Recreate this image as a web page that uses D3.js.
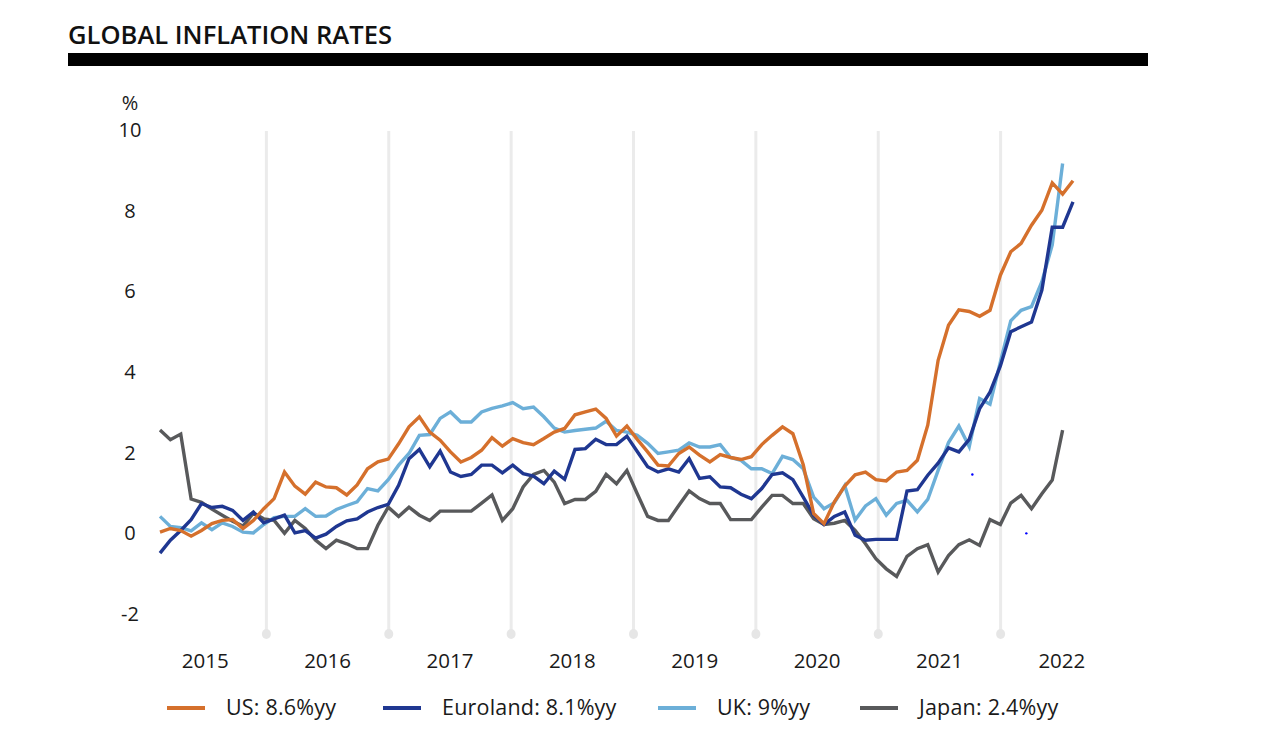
<!DOCTYPE html>
<html>
<head>
<meta charset="utf-8">
<script src="https://cdn.jsdelivr.net/npm/d3@7"></script>
<style>
  html, body { margin: 0; padding: 0; background: #ffffff; }
  svg { display: block; font-family: "Open Sans", "Noto Sans", sans-serif; }
</style>
</head>
<body>
<svg id="chart" width="1266" height="734"></svg>
<script>
// ---- data (monthly, Jan 2015 .. May 2022) ----
const years = ["2015", "2016", "2017", "2018", "2019", "2020", "2021", "2022"];
const yTicks = [-2, 0, 2, 4, 6, 8, 10];

const us = [0.03, 0.12, 0.07, -0.07, 0.07, 0.24, 0.32, 0.34, 0.12, 0.32, 0.61, 0.86,
  1.52, 1.17, 0.97, 1.27, 1.15, 1.13, 0.95, 1.2, 1.6, 1.77, 1.84, 2.22,
  2.64, 2.89, 2.51, 2.31, 2.02, 1.77, 1.88, 2.06, 2.37, 2.16, 2.35, 2.25,
  2.2, 2.35, 2.51, 2.6, 2.94, 3.01, 3.08, 2.85, 2.41, 2.66, 2.33, 2.02,
  1.69, 1.67, 1.98, 2.14, 1.94, 1.77, 1.95, 1.88, 1.83, 1.9, 2.2, 2.43,
  2.64, 2.47, 1.7, 0.49, 0.24, 0.78, 1.17, 1.45, 1.52, 1.33, 1.3, 1.52,
  1.56, 1.81, 2.68, 4.29, 5.16, 5.54, 5.5, 5.38, 5.53, 6.4, 6.98, 7.19,
  7.64, 8.01, 8.69, 8.41, 8.74];

const euroland = [-0.49, -0.17, 0.07, 0.34, 0.74, 0.64, 0.67, 0.57, 0.32, 0.53, 0.26, 0.36,
  0.45, 0.01, 0.07, -0.12, -0.02, 0.17, 0.31, 0.36, 0.53, 0.64, 0.72, 1.19,
  1.85, 2.08, 1.65, 2.04, 1.52, 1.41, 1.46, 1.69, 1.69, 1.5, 1.69, 1.48,
  1.42, 1.23, 1.54, 1.34, 2.08, 2.1, 2.33, 2.2, 2.2, 2.41, 2.03, 1.65,
  1.52, 1.6, 1.52, 1.85, 1.36, 1.4, 1.15, 1.13, 0.97, 0.86, 1.11, 1.46,
  1.5, 1.33, 0.9, 0.45, 0.22, 0.42, 0.53, -0.05, -0.17, -0.15, -0.15, -0.15,
  1.05, 1.08, 1.44, 1.74, 2.12, 2.02, 2.33, 3.09, 3.5, 4.15, 5.0, 5.12,
  5.24, 6.03, 7.59, 7.59, 8.22];

const uk = [0.42, 0.17, 0.14, 0.06, 0.26, 0.09, 0.26, 0.17, 0.03, 0.01, 0.22, 0.39,
  0.42, 0.42, 0.61, 0.42, 0.43, 0.59, 0.69, 0.78, 1.11, 1.05, 1.33, 1.69,
  1.98, 2.43, 2.45, 2.85, 3.01, 2.76, 2.76, 3.01, 3.1, 3.16, 3.24, 3.09,
  3.13, 2.89, 2.61, 2.51, 2.55, 2.58, 2.61, 2.78, 2.55, 2.51, 2.43, 2.23,
  1.98, 2.02, 2.06, 2.24, 2.14, 2.14, 2.2, 1.88, 1.81, 1.6, 1.6, 1.48,
  1.91, 1.83, 1.6, 0.9, 0.61, 0.76, 1.18, 0.33, 0.68, 0.86, 0.45, 0.74,
  0.82, 0.53, 0.84, 1.56, 2.25, 2.66, 2.15, 3.34, 3.2, 4.25, 5.27, 5.53,
  5.62, 6.24, 7.15, 9.17];

const japan = [2.56, 2.32, 2.46, 0.85, 0.77, 0.6, 0.45, 0.3, 0.18, 0.5, 0.36, 0.32,
  0.0, 0.32, 0.12, -0.17, -0.38, -0.17, -0.26, -0.38, -0.38, 0.2, 0.65, 0.42,
  0.65, 0.45, 0.32, 0.55, 0.55, 0.55, 0.55, 0.75, 0.95, 0.32, 0.61, 1.15,
  1.46, 1.56, 1.27, 0.74, 0.84, 0.84, 1.04, 1.46, 1.23, 1.56, 0.98, 0.42,
  0.32, 0.32, 0.69, 1.05, 0.86, 0.74, 0.74, 0.34, 0.34, 0.34, 0.65, 0.94,
  0.94, 0.74, 0.74, 0.36, 0.22, 0.25, 0.32, 0.07, -0.26, -0.63, -0.88, -1.07,
  -0.57, -0.38, -0.28, -0.96, -0.55, -0.28, -0.16, -0.3, 0.34, 0.22, 0.75, 0.94,
  0.61, 0.98, 1.32, 2.56];

const seriesNames = ["US: 8.6%yy", "Euroland: 8.1%yy", "UK: 9%yy", "Japan: 2.4%yy"];
const seriesColors = ["#d5702c", "#1f3791", "#6cafd8", "#58595b"];

// two tiny stray marks visible in the original (month index, value)
const strayIdx = [78.3, 83.5];
const strayVal = [1.46, 0.0];

// ---- drawing ----
const svg = d3.select("#chart");

// Title and bar
svg.append("text")
  .attr("x", 68).attr("y", 44)
  .attr("font-size", 26).attr("font-weight", 600)
  .attr("fill", "#111")
  .attr("textLength", 324).attr("lengthAdjust", "spacingAndGlyphs")
  .text("GLOBAL INFLATION RATES");
svg.append("rect").attr("x", 68).attr("y", 53).attr("width", 1080).attr("height", 13).attr("fill", "#000");

const x = d3.scaleLinear().domain([0, 88]).range([160, 1073]);
const y = d3.scaleLinear().domain([-2, 10]).range([614, 130]);
const yearBand = d3.scaleBand().domain(years).range([144, 1123]);

// vertical gridlines at year boundaries with dot
const gridYears = years.slice(1);
const grid = svg.append("g");
grid.selectAll("line").data(gridYears).join("line")
  .attr("x1", d => yearBand(d)).attr("x2", d => yearBand(d))
  .attr("y1", 131).attr("y2", 633)
  .attr("stroke", "#ebebeb").attr("stroke-width", 3);
grid.selectAll("ellipse").data(gridYears).join("ellipse")
  .attr("cx", d => yearBand(d)).attr("cy", 634)
  .attr("rx", 4.5).attr("ry", 5)
  .attr("fill", "#e6e6e6");

// y axis labels
const yAxis = d3.axisLeft(y).tickValues(yTicks).tickSize(0).tickPadding(0)
  .tickFormat(d => String(d));
const gy = svg.append("g").attr("transform", "translate(130,0)").call(yAxis);
gy.select(".domain").remove();
gy.selectAll("text").attr("font-size", 20).attr("fill", "#1a1a1a")
  .attr("text-anchor", "middle").attr("font-family", "Open Sans, sans-serif");
svg.append("text").attr("x", 130).attr("y", 110).attr("text-anchor", "middle")
  .attr("font-size", 20).attr("fill", "#1a1a1a").text("%");

// x axis (year labels)
const xAxis = d3.axisBottom(yearBand).tickSize(0).tickPadding(0);
const gx = svg.append("g").attr("transform", "translate(0,653)").call(xAxis);
gx.select(".domain").remove();
gx.selectAll("text").attr("font-size", 20.5).attr("fill", "#1a1a1a")
  .attr("font-family", "Open Sans, sans-serif");

// lines
const line = d3.line().x((d, i) => x(i)).y(d => y(d)).curve(d3.curveLinear);
const allSeries = [us, euroland, uk, japan];
const drawOrder = [3, 2, 1, 0];
const lg = svg.append("g");
drawOrder.forEach(k => {
  lg.append("path").datum(allSeries[k])
    .attr("d", line)
    .attr("fill", "none")
    .attr("stroke", seriesColors[k])
    .attr("stroke-width", 3.4)
    .attr("stroke-linejoin", "miter");
});

// stray marks
svg.append("g").selectAll("circle").data(strayIdx).join("circle")
  .attr("cx", d => x(d)).attr("cy", (d, i) => y(strayVal[i]))
  .attr("r", 1.2).attr("fill", "#0000ff");

// legend
const legendX = [167, 383, 658, 860];
const leg = svg.append("g");
seriesNames.forEach((name, k) => {
  leg.append("line")
    .attr("x1", legendX[k]).attr("x2", legendX[k] + 38)
    .attr("y1", 708).attr("y2", 708)
    .attr("stroke", seriesColors[k]).attr("stroke-width", 4);
  leg.append("text")
    .attr("x", legendX[k] + 59).attr("y", 715)
    .attr("font-size", 21.5).attr("letter-spacing", 0.2).attr("fill", "#1a1a1a")
    .text(name);
});
</script>
</body>
</html>
